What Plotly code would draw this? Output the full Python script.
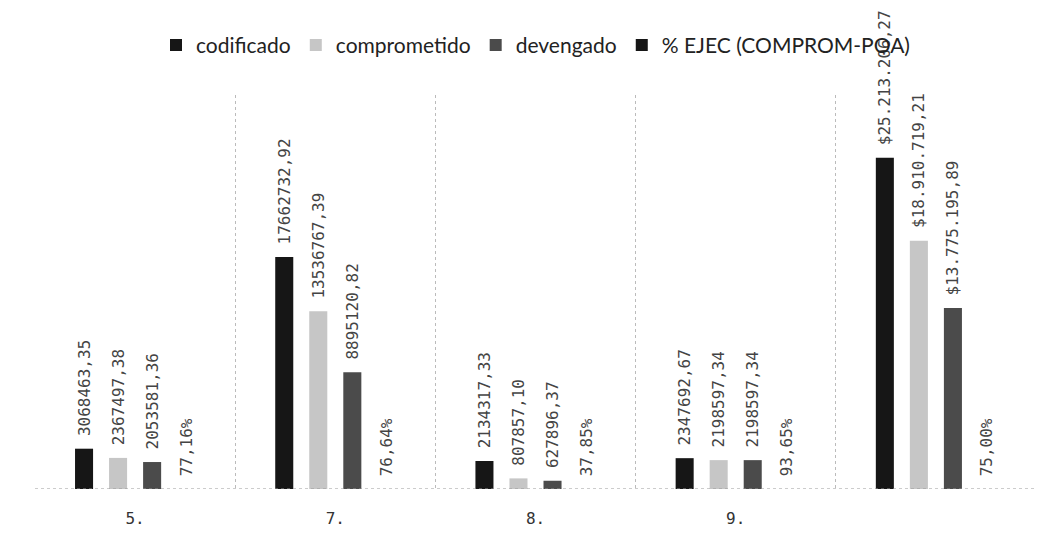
import plotly.graph_objects as go

categories = ["5.", "7.", "8.", "9.", " "]
series_names = ["codificado", "comprometido", "devengado", "% EJEC (COMPROM-POA)"]
codificado = [3068463.35, 17662732.92, 2134317.33, 2347692.67, 25213206.27]
comprometido = [2367497.38, 13536767.39, 807857.10, 2198597.34, 18910719.21]
devengado = [2053581.36, 8895120.82, 627896.37, 2198597.34, 13775195.89]
ejec_pct = [0.7716, 0.7664, 0.3785, 0.9365, 0.75]

codificado_lbl = ["3068463,35", "17662732,92", "2134317,33", "2347692,67", "$25.213.206,27"]
comprometido_lbl = ["2367497,38", "13536767,39", "807857,10", "2198597,34", "$18.910.719,21"]
devengado_lbl = ["2053581,36", "8895120,82", "627896,37", "2198597,34", "$13.775.195,89"]
ejec_lbl = ["77,16%", "76,64%", "37,85%", "93,65%", "75,00%"]

colors = ["#161616", "#c6c6c6", "#4b4b4b", "#161616"]
values = [codificado, comprometido, devengado, ejec_pct]
labels = [codificado_lbl, comprometido_lbl, devengado_lbl, ejec_lbl]

pad = "\u00a0"
fig = go.Figure()
for name, vals, lbl, col in zip(series_names, values, labels, colors):
    fig.add_trace(go.Bar(
        x=categories, y=vals, name=name,
        marker=dict(color=col, line=dict(width=0)),
        text=[pad + t for t in lbl], textposition="outside", textangle=-90,
        textfont=dict(family="DejaVu Sans Mono", size=16, color="#444444"),
        constraintext="none", cliponaxis=False,
    ))

fig.update_layout(
    width=1052, height=540,
    paper_bgcolor="white", plot_bgcolor="white",
    margin=dict(l=35, r=16, t=95, b=48),
    barmode="group", bargap=0.32, bargroupgap=0.47,
    legend=dict(orientation="h", x=0.5, xanchor="center", y=1.126, yanchor="middle",
                font=dict(family="Lato", size=21, color="#222"),
                bgcolor="rgba(0,0,0,0)",
                itemwidth=30, traceorder="normal"),
    xaxis=dict(type="category", tickson="boundaries", showgrid=True,
               gridcolor="#bbbbbb", griddash="dot", gridwidth=1,
               ticks="", ticklabelstandoff=18,
               tickfont=dict(family="DejaVu Sans Mono", size=16, color="#333"),
               showline=False, zeroline=False),
    yaxis=dict(range=[0, 30000000], showgrid=False, showticklabels=False,
               zeroline=False, showline=False, ticks=""),
    showlegend=True,
)
fig.add_shape(type="line", xref="paper", yref="y", x0=0, x1=1, y0=0, y1=0,
              line=dict(color="#999999", width=1, dash="dot"))
fig.write_html("out.html", config={"displayModeBar": False},
               post_script="document.body.style.margin='0';")
